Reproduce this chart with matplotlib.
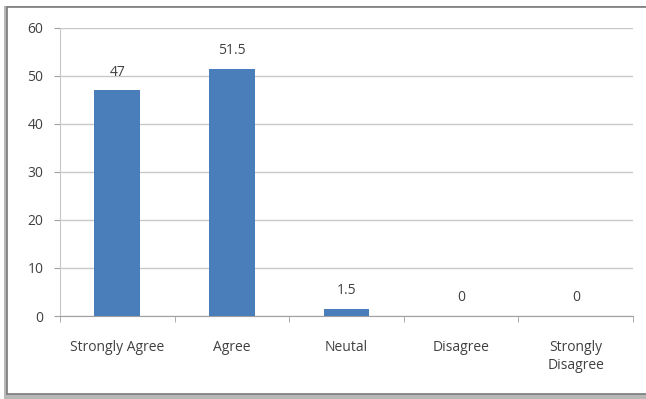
import matplotlib.pyplot as plt
from matplotlib.patches import Rectangle

categories = ['Strongly Agree', 'Agree', 'Neutal', 'Disagree', 'Strongly\nDisagree']
values = [47, 51.5, 1.5, 0, 0]
value_labels = ['47', '51.5', '1.5', '0', '0']

plt.rcParams['font.family'] = ['Open Sans', 'DejaVu Sans']

fig = plt.figure(figsize=(6.46, 3.99), dpi=100)

# outer chart border with a soft shadow
fig.patches.append(Rectangle((0.006, 0.0), 1.2, 0.985, transform=fig.transFigure,
                             facecolor='#b8b8b8', edgecolor='none', zorder=0))
fig.patches.append(Rectangle((0.011, 0.012), 1.2, 0.97, transform=fig.transFigure,
                             facecolor='white', edgecolor='#7a7a7a', linewidth=1.2, zorder=1))

ax = fig.add_axes([0.093, 0.208, 0.887, 0.722])
ax.set_zorder(2)
ax.patch.set_alpha(0)

x = range(len(categories))
bars = ax.bar(x, values, width=0.4, color='#4a7ebb', zorder=3)

for i, v in enumerate(values):
    ax.text(i, v + 3.8, value_labels[i], ha='center', va='center',
            fontsize=10, color='#404040')

ax.set_xlim(-0.5, len(categories) - 0.5)
ax.set_ylim(0, 60)
ax.set_yticks(range(0, 61, 10))
ax.yaxis.grid(True, color='#c8c8c8', linewidth=1)
ax.set_axisbelow(True)

ax.set_xticks(list(x))
ax.set_xticklabels(categories, fontsize=10, color='#404040', linespacing=1.3)
ax.set_xticks([i - 0.5 for i in range(len(categories) + 1)], minor=True)
ax.tick_params(axis='x', which='major', length=0, pad=17)
ax.tick_params(axis='x', which='minor', length=4, color='#a0a0a0', direction='out')
ax.tick_params(axis='y', length=4, color='#a0a0a0', labelsize=10, labelcolor='#404040', pad=8)

for side in ['top', 'right']:
    ax.spines[side].set_visible(False)
ax.spines['left'].set_color('#c8c8c8')
ax.spines['bottom'].set_color('#a0a0a0')

fig.savefig('out.png', dpi=100)
